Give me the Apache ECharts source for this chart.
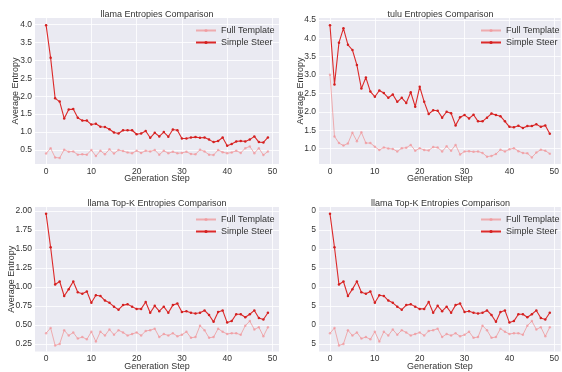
<!DOCTYPE html>
<html><head><meta charset="utf-8">
<script src="https://cdn.jsdelivr.net/npm/echarts@6/dist/echarts.min.js"></script>
<style>html,body{margin:0;padding:0;background:#fff}#c{width:562px;height:372px}</style>
</head><body><div id="c"></div>
<script>
const steps = [0,1,2,3,4,5,6,7,8,9,10,11,12,13,14,15,16,17,18,19,20,21,22,23,24,25,26,27,28,29,30,31,32,33,34,35,36,37,38,39,40,41,42,43,44,45,46,47,48,49];

const llamaFull = [0.40,0.55,0.29,0.28,0.51,0.45,0.46,0.37,0.38,0.37,0.50,0.33,0.48,0.38,0.52,0.40,0.50,0.47,0.43,0.41,0.48,0.42,0.48,0.46,0.50,0.37,0.48,0.41,0.45,0.41,0.42,0.45,0.39,0.38,0.51,0.46,0.37,0.36,0.50,0.44,0.41,0.43,0.48,0.42,0.55,0.60,0.41,0.55,0.36,0.46];
const llamaSteer = [3.98,3.07,1.94,1.85,1.38,1.63,1.64,1.40,1.32,1.32,1.21,1.23,1.15,1.14,1.08,0.99,0.96,1.05,1.05,1.05,0.94,0.96,1.03,0.84,0.98,0.88,1.00,0.87,1.07,1.05,0.82,0.82,0.85,0.86,0.84,0.85,0.79,0.72,0.75,0.85,0.62,0.67,0.74,0.75,0.74,0.79,0.88,0.72,0.71,0.85];

const tuluFull = [3.01,1.33,1.15,1.08,1.14,1.43,1.20,1.44,1.15,1.15,1.05,0.96,1.03,1.00,0.99,0.92,1.01,1.02,1.10,0.94,1.01,0.96,0.95,1.04,1.03,0.92,1.06,0.94,1.10,0.84,0.92,0.93,0.91,0.92,0.88,0.78,0.80,0.85,0.97,0.92,0.98,1.01,0.93,0.88,0.87,0.76,0.89,0.97,0.94,0.86];
const tuluSteer = [4.35,2.74,3.88,4.27,3.82,3.68,3.27,2.63,2.93,2.55,2.41,2.58,2.51,2.38,2.47,2.27,2.38,2.24,2.53,2.14,2.68,2.27,1.94,2.04,2.03,1.84,2.00,1.96,1.63,1.85,1.91,1.82,1.92,1.74,1.74,1.84,1.95,1.91,1.88,1.74,1.59,1.58,1.62,1.56,1.61,1.61,1.66,1.59,1.63,1.40];

const topkFull = [0.39,0.46,0.23,0.25,0.43,0.36,0.40,0.32,0.34,0.31,0.41,0.28,0.41,0.36,0.44,0.37,0.43,0.40,0.36,0.38,0.40,0.36,0.42,0.43,0.45,0.34,0.38,0.36,0.39,0.35,0.37,0.41,0.33,0.34,0.49,0.43,0.33,0.34,0.45,0.41,0.38,0.39,0.39,0.37,0.49,0.55,0.44,0.47,0.35,0.47];
const topkSteer = [1.96,1.52,1.03,1.07,0.88,0.97,1.07,0.93,0.91,0.94,0.79,0.89,0.88,0.82,0.79,0.74,0.70,0.76,0.77,0.74,0.71,0.71,0.80,0.66,0.75,0.68,0.74,0.66,0.76,0.78,0.67,0.68,0.66,0.65,0.66,0.69,0.63,0.54,0.67,0.69,0.53,0.55,0.64,0.64,0.60,0.64,0.69,0.59,0.57,0.66];

const titles = ['llama Entropies Comparison','tulu Entropies Comparison','llama Top-K Entropies Comparison','llama Top-K Entropies Comparison'];
const seriesNames = ['Full Template','Simple Steer'];
const xTicks = [0,10,20,30,40,50];
const yTicksLlama = [0.5,1.0,1.5,2.0,2.5,3.0,3.5,4.0];
const yTicksTulu = [1.0,1.5,2.0,2.5,3.0,3.5,4.0,4.5];
const yTicksTopk = [0.25,0.50,0.75,1.00,1.25,1.50,1.75,2.00];
const xLabel = 'Generation Step';
const yLabel = 'Average Entropy';

const FONT = 'Liberation Sans, Arial, sans-serif';
const TXT = '#333';
const panels = [
  {left:35, top:18, width:244, height:146, ymin:0.11, ymax:4.18, ticks:yTicksLlama, dec:1, full:llamaFull, steer:llamaSteer, yname:true, ygap:15, legendLeft:195},
  {left:319, top:18, width:243, height:146, ymin:0.58, ymax:4.55, ticks:yTicksTulu, dec:1, full:tuluFull, steer:tuluSteer, yname:true, ygap:13.5, legendLeft:480},
  {left:35, top:207, width:244, height:146, ymin:0.15, ymax:2.05, ticks:yTicksTopk, dec:2, full:topkFull, steer:topkSteer, yname:true, ygap:19, legendLeft:195},
  {left:319, top:207, width:243, height:146, ymin:0.15, ymax:2.05, ticks:yTicksTopk, dec:2, full:topkFull, steer:topkSteer, yname:false, ygap:19, legendLeft:480}
];

const option = {
  backgroundColor:'#ffffff',
  animation:false,
  title:[], legend:[], grid:[], xAxis:[], yAxis:[], series:[],
  graphic:[{type:'rect', z:100, shape:{x:281, y:196, width:30.5, height:165}, style:{fill:'#ffffff'}}]
};

panels.forEach((p,i)=>{
  option.title.push({text:titles[i], left:p.left + p.width/2, top:p.top-8, textAlign:'center', padding:0,
    textStyle:{fontFamily:FONT, fontSize:9, fontWeight:'normal', color:TXT}});
  option.grid.push({left:p.left, top:p.top, width:p.width, height:p.height, show:true, backgroundColor:'#EAEAF2', borderWidth:0, containLabel:false});
  option.xAxis.push({type:'value', gridIndex:i, min:-2.45, max:51.45,
    name:xLabel, nameLocation:'middle', nameGap:10.5, nameMoveOverlap:false, nameTextStyle:{fontFamily:FONT, fontSize:9, color:TXT},
    axisLine:{show:false}, axisTick:{show:false, customValues:xTicks},
    axisLabel:{customValues:xTicks, fontFamily:FONT, fontSize:8.5, color:TXT, margin:3},
    splitLine:{show:true, lineStyle:{color:'#ffffff', width:0.8}}});
  option.yAxis.push({type:'value', gridIndex:i, min:p.ymin, max:p.ymax,
    name:p.yname ? yLabel : '', nameLocation:'middle', nameGap:p.ygap, nameMoveOverlap:false, nameTextStyle:{fontFamily:FONT, fontSize:9, color:TXT},
    axisLine:{show:false}, axisTick:{show:false, customValues:p.ticks},
    axisLabel:{customValues:p.ticks, fontFamily:FONT, fontSize:8.5, color:TXT, margin:3, formatter:v=>v.toFixed(p.dec)},
    splitLine:{show:true, lineStyle:{color:'#ffffff', width:0.8}}});
  option.legend.push({orient:'vertical', left:p.legendLeft, top:p.top+8, itemWidth:20, itemHeight:4, itemGap:3, padding:0,
    data:seriesNames, textStyle:{fontFamily:FONT, fontSize:9, color:TXT}});
  option.series.push({name:seriesNames[0], type:'line', xAxisIndex:i, yAxisIndex:i,
    data:steps.map((s,k)=>[s,p.full[k]]), symbol:'circle', symbolSize:2.5,
    lineStyle:{color:'#F08080', width:1, opacity:0.6}, itemStyle:{color:'#F2949A', opacity:0.7}, color:'#F4A6A8'});
  option.series.push({name:seriesNames[1], type:'line', xAxisIndex:i, yAxisIndex:i,
    data:steps.map((s,k)=>[s,p.steer[k]]), symbol:'circle', symbolSize:2.5,
    lineStyle:{color:'#DC2A2A', width:1.1}, itemStyle:{color:'#D42020'}, color:'#DC2A2A'});
});

const chart = echarts.init(document.getElementById('c'), null, {renderer:'canvas'});
chart.setOption(option);
</script></body></html>
